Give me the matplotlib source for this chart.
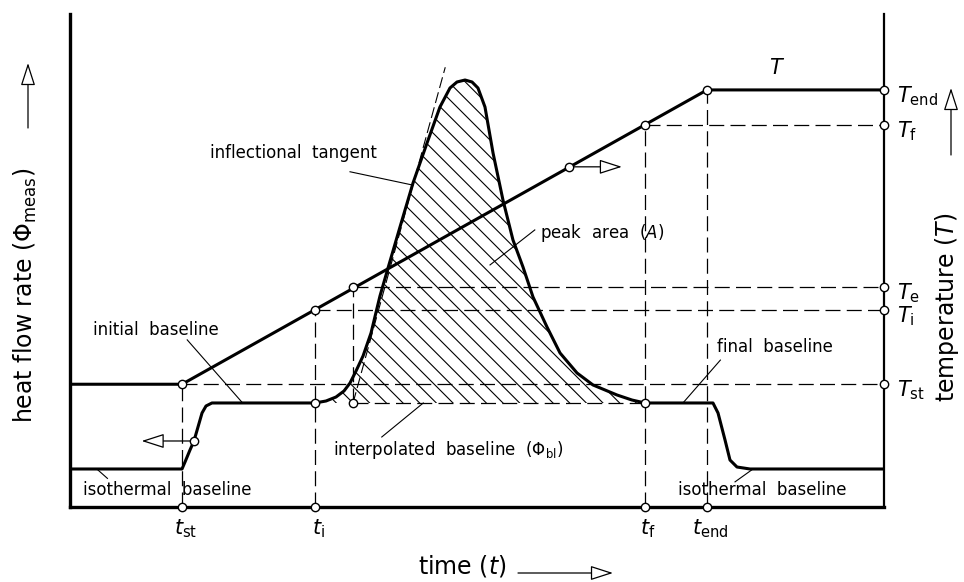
import matplotlib.pyplot as plt
from matplotlib.patches import FancyArrowPatch

plt.rcParams['font.family'] = ['DejaVu Sans']
plt.rcParams['mathtext.fontset'] = 'dejavusans'
plt.rcParams['hatch.linewidth'] = 0.8
plt.rcParams['hatch.color'] = 'black'

# temperature programme T(t)
temp_time = [0, 13.76, 78.26, 100]
temp = [24.9, 24.9, 84.6, 84.6]

# measured heat flow rate with step, peak and step back
flow_time = [0, 13.76, 14.13, 14.74, 15.23, 16.22, 16.71, 17.44,
             30.10, 31.45, 32.68, 33.66, 34.40, 35.14, 36.00, 36.98, 38.08,
             39.07, 40.54, 42.14, 43.86, 45.45, 46.68, 47.54, 48.53, 49.39,
             50.12, 50.98, 51.97, 53.19, 54.42, 55.65, 56.88, 58.60, 60.20,
             62.29, 64.25, 67.20, 69.04, 70.64,
             78.99, 79.61, 80.47, 81.08, 81.94, 83.54, 100]
flow = [7.71, 7.71, 9.13, 11.56, 13.39, 19.07, 20.49, 21.10,
        21.10, 21.50, 22.31, 23.53, 25.15, 27.59, 30.63, 35.29, 42.80,
        48.48, 56.80, 65.72, 73.83, 81.14, 84.99, 86.21, 86.61, 86.21,
        84.99, 81.14, 71.81, 62.27, 54.16, 48.68, 42.60, 36.51, 31.24,
        27.18, 24.75, 22.72, 21.70, 21.10,
        21.10, 19.07, 13.59, 9.53, 8.11, 7.71, 7.71]

# characteristic times and temperatures
t_st, t_i, t_e, t_f, t_end = 13.76, 30.10, 34.77, 70.64, 78.26
T_st, T_i, T_e, T_f, T_end = 24.9, 40.0, 44.6, 77.5, 84.6
phi_bl = 21.1

# inflectional tangent
tangent_time = [34.77, 46.1]
tangent_flow = [21.1, 89.2]

# circles carrying the axis arrows
flow_arrow = (15.23, 13.39, 8.8)
temp_arrow = (61.3, 69.0, 67.8)

fig = plt.figure(figsize=(9.64, 5.82), dpi=100)
ax = fig.add_axes([70 / 964, 75 / 582, 814 / 964, 493 / 582])
ax.set_xlim(0, 100)
ax.set_ylim(0, 100)
ax.set_xticks([])
ax.set_yticks([])
ax.spines['top'].set_visible(False)
ax.spines['left'].set_linewidth(2.4)
ax.spines['bottom'].set_linewidth(2.4)
ax.spines['right'].set_linewidth(1.6)

dash = dict(color='black', lw=0.9, dashes=(12, 5))
arrow_style = '-|>,head_length=1.4,head_width=0.45'

# hatched peak area above the interpolated baseline
i0 = flow_time.index(t_i)
i1 = flow_time.index(t_f)
ax.fill_between(flow_time[i0:i1 + 1], flow[i0:i1 + 1], phi_bl,
                facecolor='none', edgecolor='black', hatch='\\\\', lw=0)

# construction lines
for t0, T0 in [(t_st, T_st), (t_i, T_i), (t_e, T_e), (t_f, T_f)]:
    ax.plot([t0, 100], [T0, T0], **dash)
for t0, T0 in [(t_st, T_st), (t_i, T_i), (t_f, T_f), (t_end, T_end)]:
    ax.plot([t0, t0], [0, T0], **dash)
ax.plot([t_e, t_e], [phi_bl, T_e], **dash)
ax.plot([t_e, t_f], [phi_bl, phi_bl], **dash)
ax.plot(tangent_time, tangent_flow, color='black', lw=0.8, dashes=(10, 4))

# curves
ax.plot(temp_time, temp, color='black', lw=2.2, solid_joinstyle='round')
ax.plot(flow_time, flow, color='black', lw=2.2, solid_joinstyle='round',
        solid_capstyle='butt')

# arrows showing which axis each curve belongs to
for x0, y0, x1 in [flow_arrow, temp_arrow]:
    ax.add_patch(FancyArrowPatch((x0, y0), (x1, y0), arrowstyle=arrow_style,
                                 mutation_scale=10, lw=0.9, fc='white',
                                 ec='black', shrinkA=0, shrinkB=0, zorder=4))

# open circles at characteristic points
mk = dict(ls='none', marker='o', ms=6, mfc='white', mec='black', mew=1,
          zorder=6, clip_on=False)
ax.plot([t_st, t_i, t_e, temp_arrow[0], t_f, t_end],
        [T_st, T_i, T_e, temp_arrow[1], T_f, T_end], **mk)
ax.plot([100] * 5, [T_end, T_f, T_e, T_i, T_st], **mk)
ax.plot([flow_arrow[0], t_i, t_e, t_f],
        [flow_arrow[1], phi_bl, phi_bl, phi_bl], **mk)
ax.plot([t_st, t_i, t_f, t_end], [0] * 4, **mk)

# temperature marks on the right axis
for T0, lab in [(T_end, 'end'), (T_f, 'f'), (T_e, 'e'), (T_i, 'i'), (T_st, 'st')]:
    ax.text(101.6, T0 - 1.2, r'$T_{\mathrm{%s}}$' % lab, fontsize=15,
            ha='left', va='center')
ax.text(86.9, 89.0, r'$T$', fontsize=15, ha='center', va='center')

# time marks below the axis
for t0, lab in [(t_st, 'st'), (t_i, 'i'), (t_f, 'f'), (t_end, 'end')]:
    ax.text(t0 + 0.4, -2.2, r'$t_{\mathrm{%s}}$' % lab, fontsize=15,
            ha='center', va='top')

# labelled parts of the curves
notes = [
    ('inflectional  tangent', 17.2, 71.8, (34.4, 68.0), (42.1, 65.3)),
    (r'peak  area  ($A$)', 57.8, 55.6, (57.1, 56.2), (51.6, 49.1)),
    ('initial  baseline', 2.8, 35.9, (14.4, 33.9), (21.1, 21.3)),
    ('final  baseline', 79.5, 32.5, (79.9, 29.8), (75.3, 21.1)),
    (r'interpolated  baseline  ($\mathit{\Phi}_{\mathrm{bl}}$)', 32.3, 11.6,
     (38.3, 14.2), (43.4, 21.1)),
    ('isothermal  baseline', 1.6, 3.4, (3.3, 7.7), (4.6, 5.8)),
    ('isothermal  baseline', 74.7, 3.4, (81.7, 5.1), (83.9, 7.7)),
]
for txt, x, y, p0, p1 in notes:
    ax.text(x, y, txt, fontsize=12, ha='left', va='center')
    ax.plot([p0[0], p1[0]], [p0[1], p1[1]], color='black', lw=0.8)

# axis titles with their arrows
W, H = 964, 582
fig.text(25 / W, 1 - 295 / H, r'heat flow rate ($\mathit{\Phi}_{\mathrm{meas}}$)',
         rotation=90, fontsize=17, ha='center', va='center')
fig.text(947 / W, 1 - 307 / H, r'temperature ($T$)',
         rotation=90, fontsize=17, ha='center', va='center')
fig.text(462 / W, 1 - 566 / H, r'time ($t$)', fontsize=17,
         ha='center', va='center')

for (xa, ya), (xb, yb) in [((28, 128), (28, 63)), ((951, 155), (951, 88)),
                           ((518, 573), (613, 573))]:
    fig.add_artist(FancyArrowPatch((xa / W, 1 - ya / H), (xb / W, 1 - yb / H),
                                   transform=fig.transFigure,
                                   arrowstyle=arrow_style,
                                   mutation_scale=10, lw=0.9, fc='white',
                                   ec='black', shrinkA=0, shrinkB=0))

fig.savefig('out.png', dpi=100, facecolor='white')
